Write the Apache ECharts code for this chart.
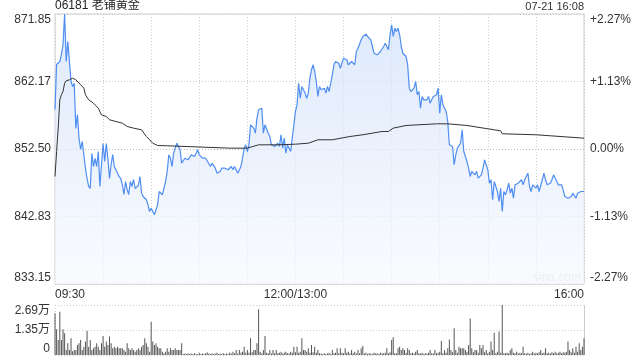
<!DOCTYPE html>
<html><head><meta charset="utf-8">
<script src="https://cdn.jsdelivr.net/npm/echarts@6.0.0/dist/echarts.min.js"></script>
<style>html,body{margin:0;padding:0;background:#fff}#c{width:640px;height:360px}</style>
</head><body><div id="c"></div>
<script>
const titleText = '06181 老铺黄金';
const stampText = '07-21 16:08';
const prevClose = 852.50;
const priceRange = 19.35;
const priceTickLabels = ['833.15','842.83','852.50','862.17','871.85'];
const pctTickLabels = ['-2.27%','-1.13%','0.00%','+1.13%','+2.27%'];
const timeTickLabels = {0:'09:30',150:'12:00/13:00',330:'16:00'};
const volTickLabels = ['0','1.35万','2.69万'];
const volMax = 2.69;

const priceMinutes = [0,1,3,4,5,6,7,8,9,10,11,12,13,14,15,16,17,18,19,20,21,22,23,24,25,26,27,28,29,30,31,32,33,34,35,36,37,38,40,41,42,43,44,45,46,47,48,49,50,52,53,54,55,56,57,58,59,60,61,62,63,64,65,66,67,69,70,71,72,73,74,75,76,77,78,79,80,81,82,83,84,85,86,87,88,89,90,91,92,93,94,95,97,98,99,100,101,102,103,104,105,106,107,108,109,110,111,112,113,114,115,116,117,118,119,120,121,122,123,124,125,126,127,128,129,130,131,132,133,134,135,136,137,138,139,140,141,142,143,144,145,146,147,148,149,150,151,152,153,154,155,156,157,158,159,160,161,162,163,164,165,166,167,168,169,170,171,172,173,174,175,176,177,178,179,180,181,182,183,184,185,186,187,188,189,191,192,193,194,195,196,197,198,199,200,201,202,203,204,205,206,208,209,210,211,212,213,214,215,216,217,218,219,220,221,222,223,224,225,226,227,228,229,230,231,232,233,234,235,236,237,238,239,240,241,242,243,244,245,246,247,248,249,250,251,252,253,254,255,256,257,258,259,260,261,262,263,264,265,266,267,268,269,270,271,272,273,274,275,276,277,278,279,280,281,282,283,284,285,286,287,288,289,290,291,292,293,294,295,296,297,298,299,300,301,302,303,304,305,306,307,308,309,310,311,312,313,314,315,316,317,318,319,320,321,322,323,324,325,326,327,328,329,330];
const prices = [858.16,864.61,865.04,866.05,867.48,871.85,865.04,867.91,867.91,862.18,861.46,861.89,855.44,857.45,854.01,852.43,853.58,851.71,849.71,848.27,847.13,846.84,851.86,849.99,851.14,849.99,852.14,847.13,847.13,853.29,850.71,853.29,851.14,848.27,850.28,851.71,849.99,849.71,848.56,848.27,847.41,845.98,847.84,846.70,845.98,847.84,847.13,848.13,846.84,847.27,848.56,846.17,845.69,845.94,845.22,844.50,843.54,844.02,843.79,843.07,843.07,844.50,846.41,846.17,845.94,847.84,849.28,851.67,851.18,849.99,851.90,852.14,853.33,853.33,852.39,850.47,850.47,851.18,851.43,850.95,850.95,851.67,851.90,851.43,851.90,852.39,851.67,851.43,851.18,851.43,851.18,850.95,849.99,850.47,850.24,849.75,849.04,849.04,849.28,849.75,849.99,849.75,849.75,849.52,849.52,849.99,849.52,849.99,849.52,849.04,849.04,849.99,851.18,852.62,853.10,852.14,853.10,855.97,855.73,855.49,854.77,856.92,858.12,858.35,858.35,854.77,855.97,855.97,854.77,854.30,853.10,853.10,852.86,853.10,853.33,852.86,854.54,852.62,854.05,851.90,853.10,852.62,852.14,854.05,853.82,857.88,858.84,861.93,859.78,861.46,860.98,860.50,859.78,860.50,862.65,863.85,864.57,863.61,862.18,860.03,861.46,860.98,860.98,861.22,860.50,861.46,860.74,860.50,863.14,864.57,865.04,865.04,864.80,864.08,864.08,865.52,865.52,865.29,864.57,864.57,865.04,864.80,864.57,866.48,866.95,868.15,868.63,868.63,868.96,868.63,868.63,868.15,867.19,866.23,866.00,866.00,866.23,866.48,866.72,867.19,867.67,866.72,868.87,870.30,868.63,869.82,869.34,869.82,868.87,867.19,866.23,866.00,865.76,864.57,861.22,860.74,860.50,861.22,862.18,860.27,860.74,858.35,860.03,859.55,859.74,859.55,860.03,859.07,859.55,860.03,860.03,860.27,861.22,857.63,860.27,858.84,858.35,857.88,856.44,853.10,852.86,852.86,850.24,851.67,852.62,852.86,853.33,855.25,852.14,851.90,850.71,849.75,848.56,849.28,849.52,848.80,849.28,848.32,848.09,848.80,849.75,850.95,850.95,849.52,847.60,848.09,845.22,847.84,847.84,846.41,844.98,846.88,843.54,846.41,845.94,846.65,847.60,846.17,846.88,845.45,847.37,847.37,847.60,847.37,848.09,847.37,848.09,848.56,849.04,847.13,846.41,847.37,847.27,846.88,847.37,846.41,846.65,848.09,849.04,848.09,847.37,847.60,847.60,848.09,848.80,848.80,847.84,847.37,847.37,847.37,846.65,845.69,845.94,845.45,845.69,845.69,846.17,845.94,845.45,846.17,845.94,846.41,846.41,846.41];

const avgMinutes = [0,1,2,3,4,5,6,7,9,11,13,14,16,18,19,21,24,27,29,32,34,38,42,45,49,54,57,59,61,64,70,109,120,127,139,150,158,164,173,184,192,204,208,211,219,238,245,257,274,278,279,300,330];
const avgPrices = [848.56,852.14,855.49,859.55,860.27,860.74,861.93,862.28,862.42,862.65,862.42,862.18,861.70,861.22,860.27,859.55,859.07,858.35,857.40,857.16,856.69,856.44,856.20,855.73,855.49,855.25,854.29,853.82,853.33,853.00,852.96,852.62,852.62,853.10,853.10,853.19,853.33,853.82,853.82,854.29,854.54,855.01,855.01,855.49,855.87,856.11,856.11,855.87,855.25,855.11,854.68,854.54,854.05];

const volumes = [
2.24,1.38,0.81,2.33,0.81,1.38,1.17,0.27,0.63,0.27,
0.90,0.20,0.27,0.27,0.54,0.63,0.81,0.27,0.45,0.72,
1.31,0.45,0.81,0.27,0.36,0.45,0.63,0.45,0.27,0.63,
1.02,0.45,0.72,0.54,0.99,0.63,0.36,0.45,0.36,0.45,
0.36,0.36,0.36,0.27,0.18,0.63,0.36,0.27,0.36,0.27,
0.18,0.27,0.36,0.27,0.45,0.54,0.90,0.63,0.45,0.18,
1.79,0.72,0.54,0.63,0.45,0.36,0.36,0.18,0.09,0.18,
0.36,0.18,0.36,0.27,0.27,0.36,0.27,0.27,0.27,0.63,
0.05,0.08,0.05,0.10,0.06,0.08,0.05,0.10,0.06,0.05,
0.12,0.06,0.08,0.05,0.10,0.14,0.08,0.05,0.10,0.06,
0.08,0.12,0.05,0.08,0.06,0.10,0.05,0.08,0.06,0.14,
0.08,0.18,0.10,0.27,0.08,0.27,0.12,0.18,0.45,0.12,
0.27,0.12,0.90,0.15,0.27,0.27,0.63,2.46,0.18,0.10,
0.27,1.02,0.12,0.10,0.27,0.08,0.27,0.10,0.27,0.10,
0.12,0.18,0.08,0.12,0.18,0.10,0.08,0.18,0.12,0.45,
0.15,0.45,0.12,0.18,0.90,0.27,0.27,0.18,0.36,0.12,
0.54,0.15,0.45,0.12,0.27,0.10,0.08,0.05,0.10,0.06,
0.08,0.12,0.05,0.27,0.10,0.12,0.36,0.10,0.36,0.12,
0.10,0.36,0.12,0.18,0.08,0.27,0.10,0.18,0.08,0.27,
0.10,0.36,0.48,0.08,0.12,0.06,0.10,0.08,0.05,0.12,
0.08,0.10,0.06,0.12,0.08,0.10,0.12,0.36,0.10,0.15,
0.81,0.95,0.09,0.10,0.36,0.45,0.27,0.36,0.27,0.12,
0.36,0.27,0.10,0.12,0.08,0.18,0.27,0.10,0.08,0.12,
0.06,0.10,0.08,0.12,0.27,0.10,0.08,0.27,0.10,0.12,
0.18,0.75,0.10,0.27,0.12,0.36,0.84,0.27,0.15,1.44,
0.27,0.12,0.45,0.36,0.36,0.36,0.27,0.18,0.54,1.97,
0.36,0.15,0.27,0.27,0.12,0.54,0.36,0.54,0.15,0.27,
0.10,0.18,0.72,0.27,1.20,0.10,0.18,1.26,0.12,2.69,
0.09,0.09,0.12,0.10,0.27,0.36,0.12,0.10,0.18,0.08,
0.12,0.10,0.45,0.10,0.08,0.12,0.06,0.10,0.18,0.08,
0.12,0.10,0.15,0.27,0.10,0.12,0.36,0.10,0.12,0.08,
0.15,0.10,0.18,0.10,0.12,0.18,0.10,0.15,0.12,0.18,
0.72,0.27,0.15,0.36,0.12,0.45,0.18,0.63,0.27,0.45,0.90];

const FONT = '"Liberation Sans", Arial, "Noto Sans CJK SC", sans-serif';
const UP = '#22a922', DOWN = '#f23030', FLAT = '#333';
const step = priceRange / 2;
function tickIndex(v){ return Math.round((v + priceRange) / step); }
function tickColor(v){ const i = tickIndex(v); return i > 2 ? UP : (i < 2 ? DOWN : FLAT); }

const priceData = priceMinutes.map((m, i) => [m, +(prices[i] - prevClose).toFixed(4)]);
const avgData = avgMinutes.map((m, i) => [m, +(avgPrices[i] - prevClose).toFixed(4)]);
const volData = volumes.map((v, i) => [i, v]);

const chart = echarts.init(document.getElementById('c'), null, {renderer: 'canvas'});
chart.setOption({
  animation: false,
  backgroundColor: '#fff',
  textStyle: {fontFamily: FONT},
  grid: [
    {left: 55, top: 14, width: 529, height: 270, show: true, borderColor: '#ccc', borderWidth: 1},
    {left: 55, top: 305, width: 529, height: 50, show: false}
  ],
  xAxis: [
    {type: 'value', gridIndex: 0, min: 0, max: 330, interval: 30,
     axisLine: {show: false}, axisTick: {show: false},
     splitLine: {show: true, lineStyle: {color: '#ccc', type: [1, 2], width: 1}},
     axisLabel: {margin: 5, fontSize: 12, color: '#333', fontFamily: FONT,
       alignMinLabel: 'left', alignMaxLabel: 'right',
       formatter: v => timeTickLabels[v] || ''}},
    {type: 'value', gridIndex: 1, min: 0, max: 330, interval: 30,
     axisLine: {show: false}, axisTick: {show: false}, axisLabel: {show: false},
     splitLine: {show: false}}
  ],
  yAxis: [
    {type: 'value', gridIndex: 0, min: -priceRange, max: priceRange, interval: step,
     axisLine: {show: false}, axisTick: {show: false},
     splitLine: {show: true, lineStyle: {color: ['#ccc','#ccc','#b8b8b8','#ccc','#ccc'], type: [1, 2], width: 1}},
     axisLabel: {margin: 4, fontSize: 12, fontFamily: FONT,
       verticalAlignMinLabel: 'bottom', verticalAlignMaxLabel: 'top',
       color: v => tickColor(v),
       formatter: v => priceTickLabels[tickIndex(v)]}},
    {type: 'value', gridIndex: 0, position: 'right', min: -priceRange, max: priceRange, interval: step,
     axisLine: {show: false}, axisTick: {show: false}, splitLine: {show: false},
     axisLabel: {margin: 6, fontSize: 12, fontFamily: FONT,
       verticalAlignMinLabel: 'bottom', verticalAlignMaxLabel: 'top',
       color: v => tickColor(v),
       formatter: v => pctTickLabels[tickIndex(v)]}},
    {type: 'value', gridIndex: 2 - 1, min: 0, max: volMax, interval: volMax / 2,
     axisLine: {show: false}, axisTick: {show: false},
     splitLine: {show: true, lineStyle: {color: '#ccc', type: [1, 2], width: 1}},
     axisLabel: {margin: 5, fontSize: 12, color: '#333', fontFamily: FONT,
       verticalAlignMinLabel: 'bottom', verticalAlignMaxLabel: 'top',
       formatter: v => volTickLabels[Math.round(v / (volMax / 2))]}}
  ],
  graphic: [
    {type: 'text', left: 55, top: 0, style: {text: titleText, font: '12px ' + FONT, fill: '#222'}},
    {type: 'text', right: 56, top: 1, style: {text: stampText, font: '11px ' + FONT, fill: '#333'}},
    {type: 'text', left: 533, top: 272, style: {text: 'sina.com', font: '12px ' + FONT, fill: '#d4d4d4'}},
    {type: 'rect', shape: {x: 584.5, y: 305, width: 0, height: 50}, style: {stroke: '#ccc', lineWidth: 1}},
    {type: 'line', shape: {x1: 55.5, y1: 305, x2: 55.5, y2: 355}, style: {stroke: '#ccc', lineWidth: 1, lineDash: [1, 2]}},
    {type: 'line', shape: {x1: 584.5, y1: 305, x2: 584.5, y2: 355}, style: {stroke: '#ccc', lineWidth: 1}}
  ],
  series: [
    {type: 'line', xAxisIndex: 0, yAxisIndex: 0, data: priceData, symbol: 'none', smooth: false,
     lineStyle: {color: '#4f8ef0', width: 1.2},
     areaStyle: {origin: 'start', color: new echarts.graphic.LinearGradient(0, 0, 0, 1, [
       {offset: 0, color: '#cfe0fa'}, {offset: 1, color: '#f7f9fe'}])},
     z: 2},
    {type: 'line', xAxisIndex: 0, yAxisIndex: 0, data: avgData, symbol: 'none',
     lineStyle: {color: '#333', width: 1}, z: 3},
    {type: 'bar', xAxisIndex: 1, yAxisIndex: 2, data: volData, barWidth: 1,
     itemStyle: {color: '#555'}, z: 2}
  ]
});
</script></body></html>
